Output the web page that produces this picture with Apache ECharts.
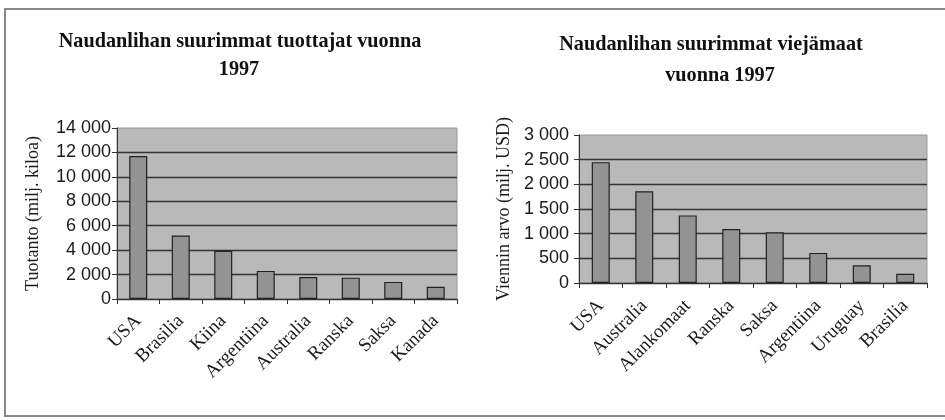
<!DOCTYPE html>
<html><head><meta charset="utf-8">
<script src="https://cdn.jsdelivr.net/npm/echarts@6/dist/echarts.min.js"></script>
<style>html,body{margin:0;padding:0;background:#fff;}#c{width:945px;height:420px;}</style>
</head><body><div id="c"></div>
<script>
const prodCategories = ['USA','Brasilia','Kiina','Argentiina','Australia','Ranska','Saksa','Kanada'];
const prodValues = [11700, 5200, 3950, 2300, 1800, 1750, 1400, 1000];
const expCategories = ['USA','Australia','Alankomaat','Ranska','Saksa','Argentiina','Uruguay','Brasilia'];
const expValues = [2450, 1860, 1370, 1095, 1030, 610, 360, 185];
const prodTitle = ['Naudanlihan suurimmat tuottajat vuonna', '1997'];
const expTitle = ['Naudanlihan suurimmat viejämaat', 'vuonna 1997'];
const prodAxisName = 'Tuotanto (milj. kiloa)';
const expAxisName = 'Viennin arvo (milj. USD)';

function fmt(v){ return String(v).replace(/\B(?=(\d{3})+(?!\d))/g, ' '); }

const chart = echarts.init(document.getElementById('c'), null, {renderer:'canvas'});
const titleFont = 'bold 22px "Liberation Serif", "Times New Roman", serif';
function titleText(text, x, y, sx){
  return {type:'text', x:x, y:y, scaleX:sx, style:{text:text, font:titleFont, fill:'#111', textAlign:'center', textVerticalAlign:'middle'}};
}
function yAxis(gi, max, interval, gap, margin){
  return {
    type:'value', gridIndex:gi, min:0, max:max, interval:interval,
    name: gi===0 ? prodAxisName : expAxisName, nameLocation:'middle', nameGap:gap, nameRotate:90,
    nameTextStyle:{fontFamily:'"Liberation Serif", serif', fontSize:18, color:'#1a1a1a'},
    axisLine:{show:true, lineStyle:{color:'#333', width:1}},
    axisTick:{show:true, length:5, lineStyle:{color:'#333'}},
    axisLabel:{formatter:fmt, fontFamily:'"Liberation Sans", Arial, sans-serif', fontSize:18, color:'#1a1a1a', margin:margin},
    splitLine:{show:true, showMaxLine:false, lineStyle:{color:'#333', width:1.4}}
  };
}
function xAxis(gi, cats, margin){
  return {
    type:'category', gridIndex:gi, data:cats,
    axisLine:{show:true, lineStyle:{color:'#333', width:1}},
    axisTick:{show:true, length:5, alignWithLabel:false, lineStyle:{color:'#333'}},
    axisLabel:{rotate:45, interval:0, fontFamily:'"Liberation Serif", serif', fontSize:19, color:'#1a1a1a', margin:margin}
  };
}
const barStyle = {color:'#939393', borderColor:'#222', borderWidth:1.2};
chart.setOption({
  animation:false,
  backgroundColor:'#fff',
  grid:[
    {left:117, top:128, width:340, height:171, show:true, backgroundColor:'#b9b9b9', borderColor:'#999', borderWidth:1},
    {left:579, top:135, width:348, height:148, show:true, backgroundColor:'#b9b9b9', borderColor:'#999', borderWidth:1}
  ],
  xAxis:[xAxis(0, prodCategories, 19), xAxis(1, expCategories, 20)],
  yAxis:[yAxis(0, 14000, 2000, 75, 6), yAxis(1, 3000, 500, 66, 10)],
  series:[
    {type:'bar', xAxisIndex:0, yAxisIndex:0, data:prodValues, barWidth:18, itemStyle:barStyle},
    {type:'bar', xAxisIndex:1, yAxisIndex:1, data:expValues, barWidth:18, itemStyle:barStyle}
  ],
  graphic:[
    {type:'rect', shape:{x:5, y:9, width:960, height:407}, style:{fill:'none', stroke:'#888', lineWidth:2}, silent:true},
    titleText(prodTitle[0], 240, 41, 0.92),
    titleText(prodTitle[1], 239, 69, 0.92),
    titleText(expTitle[0], 711, 44, 0.92),
    titleText(expTitle[1], 720, 75, 0.92)
  ]
});
</script></body></html>
